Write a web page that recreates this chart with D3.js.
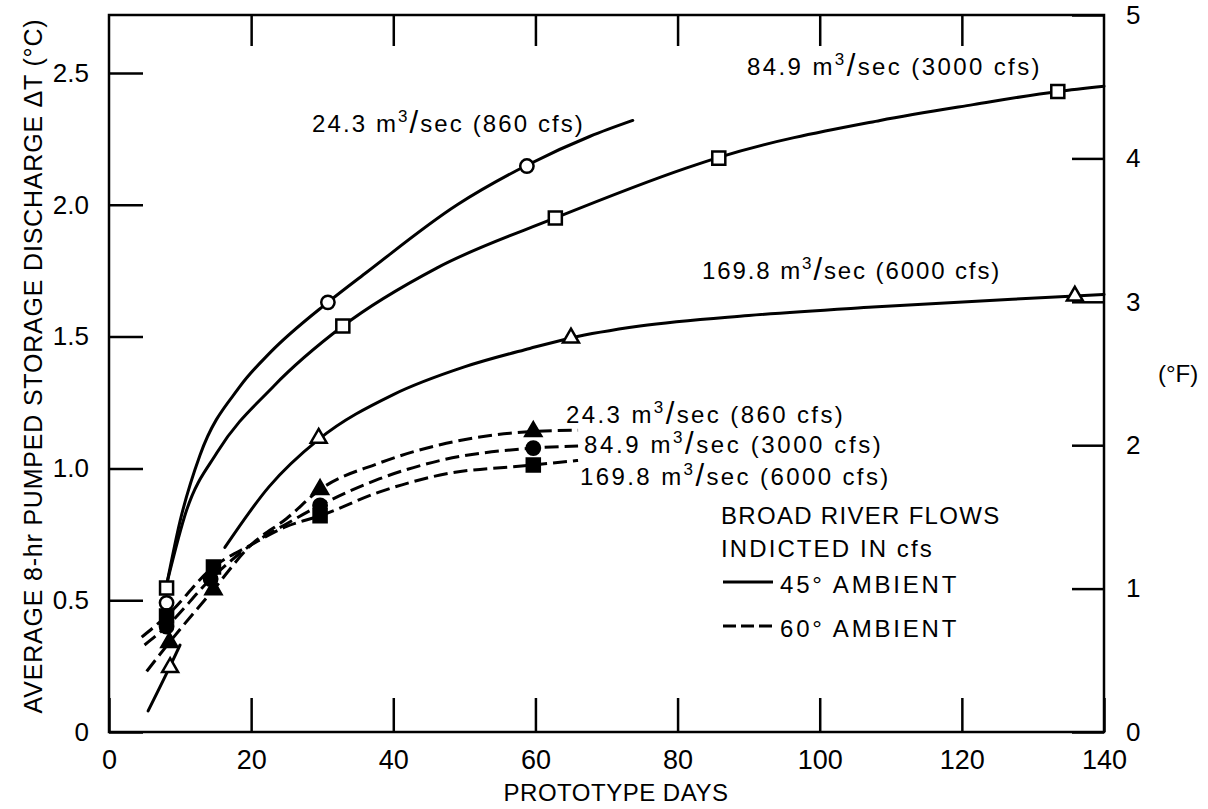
<!DOCTYPE html>
<html><head><meta charset="utf-8">
<script src="https://cdn.jsdelivr.net/npm/d3@7"></script>
<style>
html,body{margin:0;padding:0;background:#fff;}
svg{display:block;}
text{font-family:"Liberation Sans",Arial,Helvetica,sans-serif;fill:#000;}
</style></head><body>
<svg id="chart" width="1208" height="809"></svg>
<script>
// ---------- DATA ----------
const dayTicks = [0, 20, 40, 60, 80, 100, 120, 140];
const degCTicks = [0, 0.5, 1.0, 1.5, 2.0, 2.5];
const degFTicks = [0, 1, 2, 3, 4, 5];
const flowM3 = ["24.3", "84.9", "169.8"];
const flowCfs = ["860", "3000", "6000"];

// 45° ambient (solid) traced curves [day, °C]
const curve45_860 = [[8.2,0.57],[10.0,0.80],[12.8,1.05],[18.4,1.31],[22.7,1.44],[30.8,1.63],[36.3,1.745],[49,2.0],[58.8,2.15],[67.7,2.26],[73.7,2.32]];
const curve45_3000 = [[8.2,0.57],[10.9,0.84],[15.2,1.06],[23.1,1.31],[32.9,1.54],[46.1,1.76],[62.8,1.95],[81.3,2.14],[85.8,2.18],[108.5,2.32],[121.6,2.38],[133.5,2.43],[140,2.45]];
const curve45_6000a = [[5.5,0.08],[8.6,0.25],[10.0,0.33]];
const curve45_6000b = [[16.3,0.70],[22.5,0.93],[29.5,1.11],[40,1.28],[50,1.385],[59.2,1.455],[65,1.495],[74.7,1.54],[90,1.58],[107.5,1.612],[135.9,1.654],[140,1.66]];
// 60° ambient (dashed) traced curves
const curve60_860 = [[5.3,0.23],[8.5,0.34],[14.7,0.54],[20,0.71],[25,0.81],[29.7,0.92],[38,1.02],[46.6,1.09],[59.7,1.14],[66,1.145]];
const curve60_3000 = [[5.0,0.33],[8.1,0.40],[14.3,0.58],[20,0.71],[25,0.79],[29.7,0.86],[38,0.96],[46.6,1.03],[59.7,1.077],[66,1.085]];
const curve60_6000 = [[4.6,0.36],[8.1,0.44],[14.7,0.626],[20,0.71],[25,0.78],[29.7,0.82],[38,0.91],[46.6,0.975],[59.7,1.013],[66,1.03]];

// markers
const pts45_860 = [[8.1,0.49],[30.8,1.63],[58.8,2.147]];           // open circles
const pts45_3000 = [[8.1,0.546],[32.9,1.54],[62.8,1.95],[85.8,2.177],[133.5,2.43]]; // open squares
const pts45_6000 = [[8.6,0.245],[29.5,1.115],[65,1.495],[135.9,1.654]]; // open triangles
const pts60_860 = [[8.5,0.34],[14.7,0.54],[29.7,0.92],[59.7,1.14]];  // filled triangles
const pts60_3000 = [[8.1,0.40],[14.3,0.58],[29.7,0.86],[59.7,1.077]]; // filled circles
const pts60_6000 = [[8.1,0.44],[14.7,0.626],[29.7,0.82],[59.7,1.013]]; // filled squares

// ---------- LAYOUT ----------
const svg = d3.select("#chart");
const L = 109, R = 1104, T = 15, B = 732;
const x = d3.scaleLinear().domain([0,140]).range([L,R]);
const yC = d3.scaleLinear().domain([0,2.72]).range([B,T]);
const yF = d3.scaleLinear().domain([0,5]).range([B,T]);

function styleAxis(g){
  g.select(".domain").remove();
  g.selectAll(".tick line").attr("stroke","#000").attr("stroke-width",2.5);
  g.selectAll(".tick text").attr("fill","#000").attr("font-family","Liberation Sans, Arial, sans-serif");
}
svg.append("g").attr("transform",`translate(0,${B})`)
  .call(d3.axisBottom(x).tickValues(dayTicks).tickSizeInner(-34).tickSizeOuter(0).tickPadding(18).tickFormat(d3.format("d")))
  .call(styleAxis).selectAll("text").attr("font-size",27);
svg.append("g").attr("transform",`translate(0,${T})`)
  .call(d3.axisTop(x).tickValues(dayTicks.slice(1,-1)).tickSizeInner(-31).tickSizeOuter(0).tickFormat(""))
  .call(styleAxis);
svg.append("g").attr("transform",`translate(${L},0)`)
  .call(d3.axisLeft(yC).tickValues(degCTicks).tickSizeInner(-34).tickSizeOuter(0).tickPadding(20).tickFormat(d => d===0 ? "0" : d3.format(".1f")(d)))
  .call(styleAxis).selectAll("text").attr("font-size",26);
svg.append("g").attr("transform",`translate(${R},0)`)
  .call(d3.axisRight(yF).tickValues(degFTicks).tickSizeInner(-32).tickSizeOuter(0).tickPadding(22).tickFormat(d3.format("d")))
  .call(styleAxis).selectAll("text").attr("font-size",26);

// frame
svg.append("rect").attr("x",L).attr("y",T).attr("width",R-L).attr("height",B-T)
  .attr("fill","none").attr("stroke","#000").attr("stroke-width",2.5);

// curves
const line = d3.line().x(d=>x(d[0])).y(d=>yC(d[1])).curve(d3.curveMonotoneX);
const curves = svg.append("g").attr("fill","none").attr("stroke","#000").attr("stroke-width",3).attr("stroke-linecap","round");
[curve45_860, curve45_3000, curve45_6000a, curve45_6000b].forEach(c => curves.append("path").attr("d", line(c)));
[curve60_860, curve60_3000, curve60_6000].forEach(c => curves.append("path").attr("d", line(c)).attr("stroke-dasharray","14,6").attr("stroke-linecap","butt"));

// markers
function markers(data, type, filled){
  const sym = d3.symbol().type(type).size(type===d3.symbolTriangle ? 110 : (type===d3.symbolSquare ? 170 : 140));
  svg.append("g").selectAll("path").data(data).join("path")
    .attr("transform", d => `translate(${x(d[0])},${yC(d[1])})`)
    .attr("d", sym())
    .attr("fill", filled ? "#000" : "#fff")
    .attr("stroke","#000").attr("stroke-width",2.5);
}
markers(pts45_860, d3.symbolCircle, false);
markers(pts45_3000, d3.symbolSquare, false);
markers(pts45_6000, d3.symbolTriangle, false);
markers(pts60_6000, d3.symbolSquare, true);
markers(pts60_3000, d3.symbolCircle, true);
markers(pts60_860, d3.symbolTriangle, true);

// flow labels
function flowLabel(px, py, i, ls){
  const t = svg.append("text").attr("x",px).attr("y",py).attr("font-size",24).attr("letter-spacing",ls);
  t.append("tspan").text(flowM3[i] + " m");
  t.append("tspan").attr("font-size",17).attr("dy",-10).text("3");
  t.append("tspan").attr("font-size",31).attr("dy",11).text("/");
  t.append("tspan").attr("font-size",24).attr("dy",-1).text("sec (" + flowCfs[i] + " cfs)");
}
flowLabel(312, 132, 0, 2.1);
flowLabel(747, 75, 1, 2.4);
flowLabel(702, 279, 2, 1.9);
flowLabel(566, 423, 0, 2.4);
flowLabel(584, 453, 1, 2.6);
flowLabel(580, 485, 2, 2.4);

// legend
const lg = svg.append("g");
lg.append("text").attr("x",721).attr("y",524).attr("font-size",24).attr("letter-spacing",1.3).text("BROAD RIVER FLOWS");
lg.append("text").attr("x",721).attr("y",557).attr("font-size",24).attr("letter-spacing",2.1).text("INDICTED IN cfs");
lg.append("line").attr("x1",723).attr("x2",773).attr("y1",582).attr("y2",582).attr("stroke","#000").attr("stroke-width",3);
lg.append("text").attr("x",780).attr("y",593).attr("font-size",24).attr("letter-spacing",2.8).text("45° AMBIENT");
lg.append("line").attr("x1",723).attr("x2",773).attr("y1",626).attr("y2",626).attr("stroke","#000").attr("stroke-width",3).attr("stroke-dasharray","13,5");
lg.append("text").attr("x",780).attr("y",637).attr("font-size",24).attr("letter-spacing",2.8).text("60° AMBIENT");

// axis titles
svg.append("text").attr("x",616).attr("y",801).attr("text-anchor","middle").attr("font-size",24).attr("letter-spacing",0.5).text("PROTOTYPE DAYS");
svg.append("text").attr("transform","translate(42,366) rotate(-90)").attr("text-anchor","middle").attr("font-size",25).attr("letter-spacing",0.8)
  .text("AVERAGE 8-hr PUMPED STORAGE DISCHARGE ΔT (°C)");
svg.append("text").attr("x",1158).attr("y",382).attr("font-size",24).text("(°F)");
</script></body></html>
